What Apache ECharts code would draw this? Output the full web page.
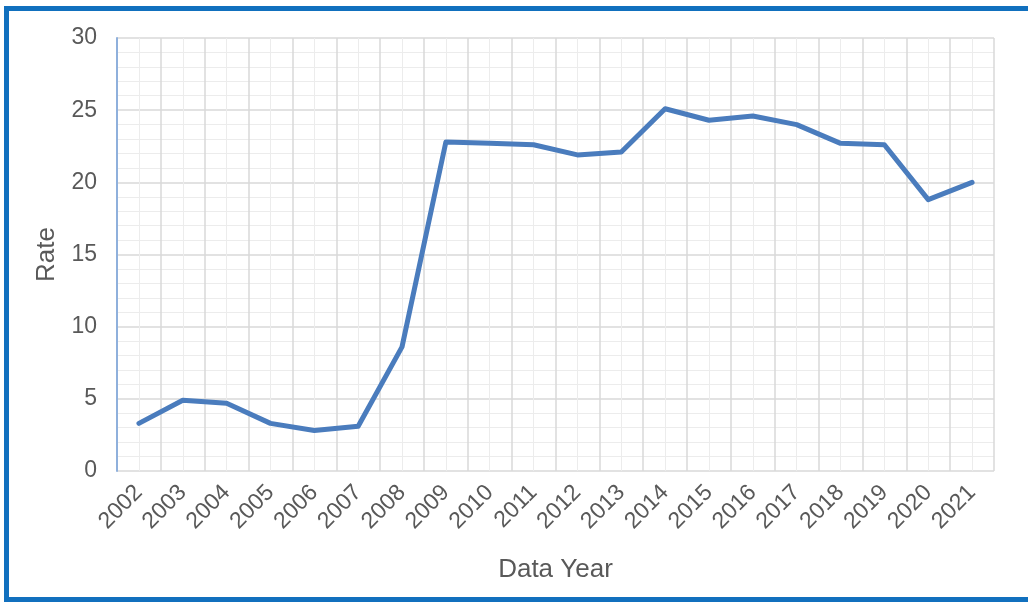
<!DOCTYPE html>
<html>
<head>
<meta charset="utf-8">
<script src="https://cdn.jsdelivr.net/npm/echarts@6/dist/echarts.min.js"></script>
<style>
  html, body { margin: 0; padding: 0; background: #ffffff; overflow: hidden; }
  #wrap { position: relative; width: 1028px; height: 602px; overflow: hidden; }
  #chart { position: absolute; left: 0; top: 0; width: 1028px; height: 602px; }
  .edge { position: absolute; background: #1170be; pointer-events: none; }
  #edge-top { left: 4px; top: 6px; width: 1024px; height: 5px; }
  #edge-left { left: 4px; top: 6px; width: 5px; height: 596px; }
  #edge-bottom { left: 4px; top: 597px; width: 1024px; height: 5px; }
</style>
</head>
<body>
<div id="wrap">
  <div id="chart"></div>
  <div class="edge" id="edge-top"></div>
  <div class="edge" id="edge-left"></div>
  <div class="edge" id="edge-bottom"></div>
</div>
<script>
// Yearly rate, 2002–2021
const years = ['2002','2003','2004','2005','2006','2007','2008','2009','2010','2011',
               '2012','2013','2014','2015','2016','2017','2018','2019','2020','2021'];
const rates = [3.3, 4.9, 4.7, 3.3, 2.8, 3.1, 8.6, 22.8, 22.7, 22.6,
               21.9, 22.1, 25.1, 24.3, 24.6, 24.0, 22.7, 22.6, 18.8, 20.0];
const yTicks = { min: 0, max: 30, step: 5 };

const textColor = '#595959';
const font = '"Liberation Sans", Arial, sans-serif';

const chart = echarts.init(document.getElementById('chart'), null, { renderer: 'canvas' });
chart.setOption({
  animation: false,
  backgroundColor: '#ffffff',
  grid: { left: 117, right: 34, top: 38, bottom: 131, containLabel: false },
  xAxis: [
    {
      type: 'category',
      data: years,
      boundaryGap: true,
      name: 'Data Year',
      nameLocation: 'middle',
      nameGap: 86,
      nameTextStyle: { color: textColor, fontSize: 26, fontFamily: font },
      axisLine: { show: false },
      axisTick: { show: false },
      splitLine: { show: false },
      axisLabel: {
        interval: 0, rotate: 45, margin: 18,
        color: textColor, fontSize: 23, fontFamily: font
      }
    },
    {
      // grid columns: year boundaries (major) and year centres (minor)
      type: 'value',
      min: 0, max: years.length, interval: 1,
      position: 'bottom',
      axisLine: { show: false },
      axisTick: { show: false },
      axisLabel: { show: false },
      splitLine: { show: true, lineStyle: { color: '#d9d9d9', width: 1.5 } },
      minorTick: { show: false, splitNumber: 2 },
      minorSplitLine: { show: true, lineStyle: { color: '#ececec', width: 1 } }
    }
  ],
  yAxis: {
    type: 'value',
    min: yTicks.min, max: yTicks.max, interval: yTicks.step,
    name: 'Rate',
    nameLocation: 'middle',
    nameGap: 57,
    nameRotate: 90,
    nameTextStyle: { color: textColor, fontSize: 26, fontFamily: font },
    axisLine: { show: true, lineStyle: { color: '#8fb0dc', width: 2 } },
    axisTick: { show: false },
    axisLabel: { color: textColor, fontSize: 23, fontFamily: font, margin: 20 },
    splitLine: { show: true, lineStyle: { color: '#d9d9d9', width: 1.5 } },
    minorTick: { show: false, splitNumber: 5 },
    minorSplitLine: { show: true, lineStyle: { color: '#ececec', width: 1 } }
  },
  series: [{
    type: 'line',
    xAxisIndex: 0,
    data: rates,
    showSymbol: false,
    symbol: 'none',
    lineStyle: { color: '#4a7cbd', width: 5, join: 'round', cap: 'round' },
    z: 5
  }]
});
</script>
</body>
</html>
